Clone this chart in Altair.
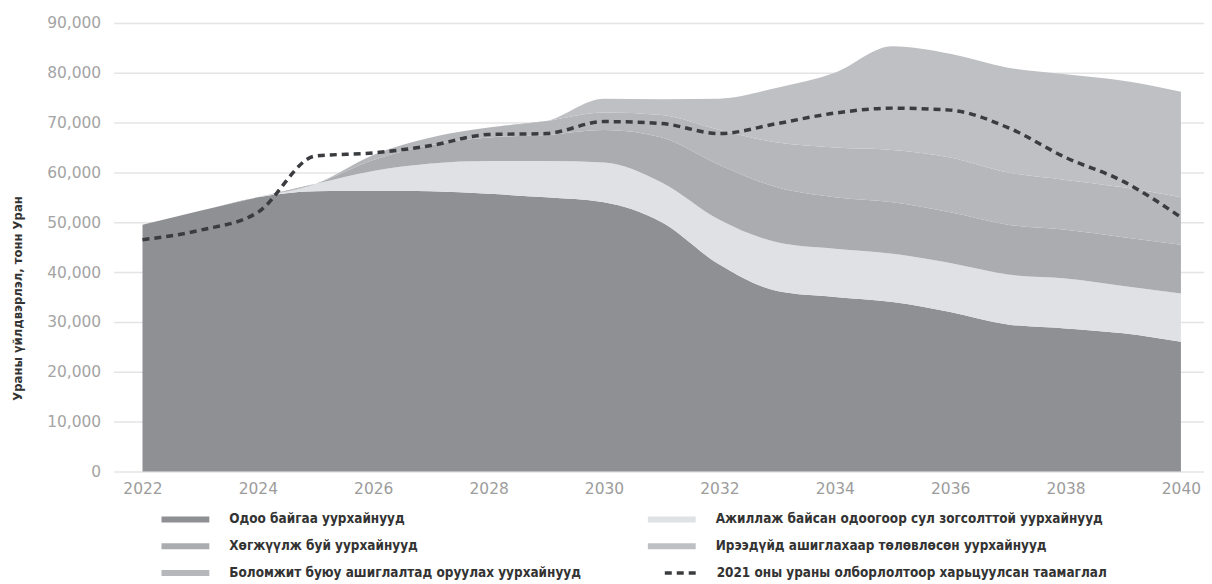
import altair as alt
import pandas as pd

years = list(range(2022, 2041))

s_current = "Одоо байгаа уурхайнууд"
s_idle = "Ажиллаж байсан одоогоор сул зогсолттой уурхайнууд"
s_dev = "Хөгжүүлж буй уурхайнууд"
s_future = "Ирээдүйд ашиглахаар төлөвлөсөн уурхайнууд"
s_possible = "Боломжит буюу ашиглалтад оруулах уурхайнууд"
s_line = "2021 оны ураны олборлолтоор харьцуулсан таамаглал"

current = [49500, 52300, 55000, 56200, 56300, 56200, 55700, 55000, 54000, 50000,
           41500, 36200, 35000, 34000, 32000, 29500, 28700, 27700, 26000]
idle = [0, 0, 0, 1500, 4000, 5600, 6600, 7300, 8000, 8000,
        9000, 9800, 9700, 9700, 9800, 10000, 10000, 9500, 9700]
developing = [0, 0, 0, 0, 2200, 3700, 4700, 5200, 6500, 9000,
              11000, 11000, 10300, 10300, 10200, 10000, 9800, 9800, 9800]
possible = [0, 0, 0, 0, 1000, 1500, 2000, 2800, 3500, 4500,
            7000, 9000, 10000, 10500, 11000, 10500, 10000, 10000, 9500]
future = [0, 0, 0, 0, 0, 0, 0, 0, 2800, 3200,
          6300, 11000, 15000, 20800, 20800, 21000, 21200, 21400, 21200]
forecast_2021 = [46500, 48400, 52000, 63300, 63900, 65400, 67600, 67800, 70200, 69800,
                 67800, 69800, 71900, 72900, 72500, 69000, 63000, 58200, 51000]

stack_series = [
    (s_current, current, 1),
    (s_idle, idle, 2),
    (s_dev, developing, 3),
    (s_possible, possible, 4),
    (s_future, future, 5),
]
rows = []
for name, vals, rank in stack_series:
    for y, v in zip(years, vals):
        rows.append({"year": y, "value": v, "series": name, "rank": rank})
area_df = pd.DataFrame(rows)
line_df = pd.DataFrame({"year": years, "value": forecast_2021, "series": s_line})

# column-major legend: column 1 then column 2
legend_order = [s_current, s_dev, s_possible, s_idle, s_future]
color_map = {
    s_current: "#8f9093",
    s_idle: "#e0e1e4",
    s_dev: "#abacaf",
    s_future: "#bfc0c3",
    s_possible: "#b6b7ba",
}

label_font = "'DejaVu Sans Condensed', 'Liberation Sans Narrow', 'Roboto', sans-serif"

x_enc = alt.X("year:Q",
              scale=alt.Scale(domain=[2021.5, 2040.4], nice=False, zero=False),
              axis=alt.Axis(values=list(range(2022, 2041, 2)), format="d", title=None,
                            grid=False, domain=False, ticks=False, labelPadding=10,
                            labelFont="DejaVu Sans", labelFontSize=15.5,
                            labelColor="#9c9c9c"))
y_scale = alt.Scale(domain=[0, 90000], nice=False)

area = alt.Chart(area_df).mark_area(interpolate="monotone", opacity=1).encode(
    x=x_enc,
    y=alt.Y("value:Q", stack="zero", scale=y_scale,
            axis=alt.Axis(values=list(range(0, 90001, 10000)), format=",d",
                          title="Ураны үйлдвэрлэл, тонн Уран",
                          titleFont=label_font, titleFontSize=13, titleFontWeight="bold",
                          titleColor="#333333", titleX=-96, titleY=276,
                          titleBaseline="middle",
                          grid=True, gridColor="#e4e4e4", gridWidth=1.5,
                          domain=False, ticks=False, labelPadding=13,
                          labelFont="DejaVu Sans", labelFontSize=15.5,
                          labelColor="#a4a4a4")),
    color=alt.Color("series:N",
                    scale=alt.Scale(domain=legend_order,
                                    range=[color_map[s] for s in legend_order]),
                    legend=alt.Legend(title=None, orient="none", legendX=48, legendY=488,
                                      columns=2, columnPadding=66, rowPadding=10,
                                      symbolType="M-2.4,-0.3H2.4V0.3H-2.4Z",
                                      symbolSize=400, symbolStrokeWidth=0,
                                      symbolOffset=14, labelOffset=34,
                                      labelFont=label_font, labelFontSize=13.5,
                                      labelFontWeight="bold", labelColor="#333333",
                                      labelLimit=600)),
    order=alt.Order("rank:Q", sort="ascending"),
)

line = alt.Chart(line_df).mark_line(interpolate="monotone", color="#3b3c3f",
                                    strokeWidth=3.5).encode(
    x=x_enc,
    y=alt.Y("value:Q", scale=y_scale),
    strokeDash=alt.StrokeDash("series:N",
                              scale=alt.Scale(domain=[s_line], range=[[7, 5]]),
                              legend=alt.Legend(title=None, orient="none",
                                                legendX=551, legendY=532,
                                                symbolType="stroke", symbolSize=1296,
                                                symbolStrokeWidth=3.5,
                                                symbolStrokeColor="#3b3c3f",
                                                labelOffset=14,
                                                labelFont=label_font, labelFontSize=13.5,
                                                labelFontWeight="bold",
                                                labelColor="#333333", labelLimit=600)),
)

chart = alt.layer(area, line).properties(
    width=1094, height=450,
    autosize=alt.AutoSizeParams(type="none"),
    padding={"left": 106, "top": 14, "right": 0, "bottom": 110},
).configure_view(stroke=None).resolve_legend(color="independent", strokeDash="independent")

chart.save("out.html", embed_options={"renderer": "svg", "actions": False})
